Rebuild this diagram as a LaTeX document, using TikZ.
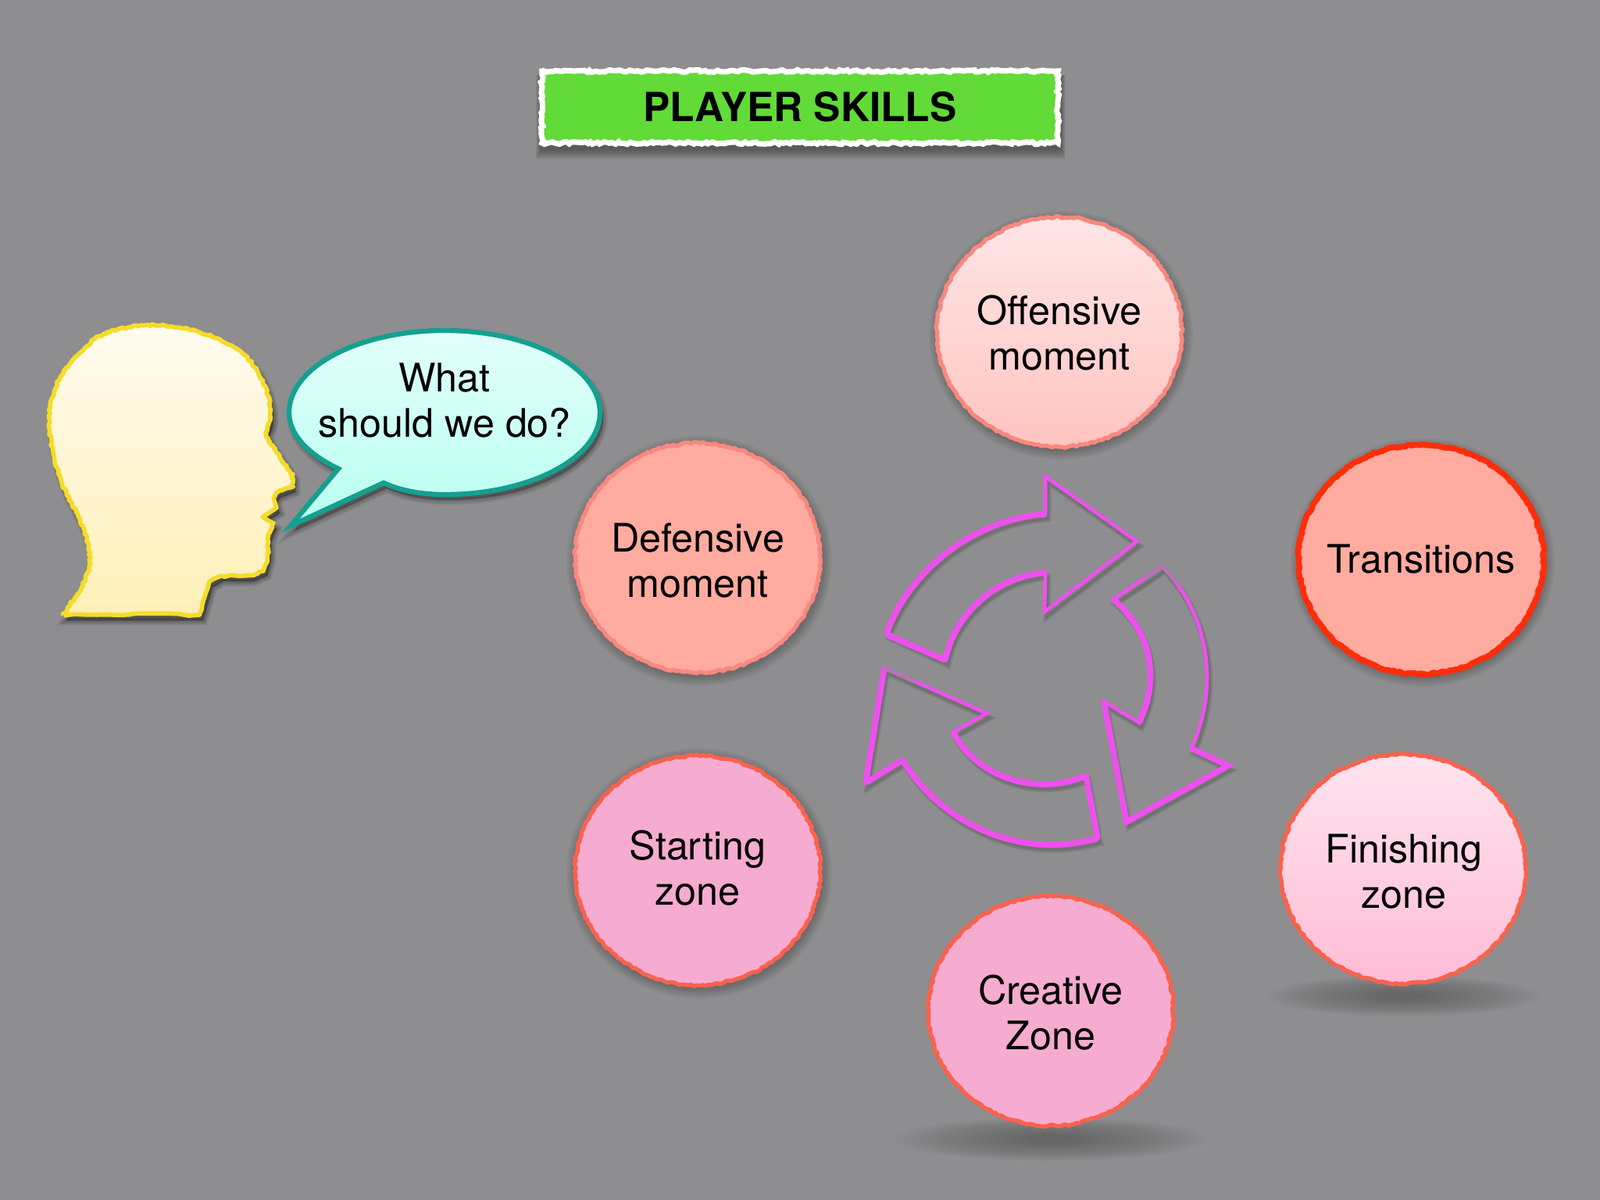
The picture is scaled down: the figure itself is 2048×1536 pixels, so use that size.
\documentclass[tikz,border=0pt]{standalone}
\usepackage{fontspec}
\setmainfont{TeX Gyre Heros}
\usetikzlibrary{shapes.geometric,decorations.pathmorphing}
\definecolor{bgray}{HTML}{8E8D8F}
\definecolor{pinkfill}{HTML}{F6ABD0}
\definecolor{salmon}{HTML}{FFABA0}
\definecolor{edgesoft}{HTML}{F9887F}
\definecolor{edgecoral}{HTML}{F9624E}
\definecolor{edgered}{HTML}{FF2D0A}
\definecolor{magentaline}{HTML}{F04FF0}
\definecolor{titlegreen}{HTML}{62DA37}
\definecolor{headline}{HTML}{F5DC2A}
\definecolor{tealline}{HTML}{14A090}
\definecolor{headtop}{HTML}{FFFBEE}
\definecolor{headbot}{HTML}{FFF0B8}
\definecolor{bubtop}{HTML}{E2FFFB}
\definecolor{bubbot}{HTML}{B8FFF0}
\definecolor{offtop}{HTML}{FFE6E6}
\definecolor{offbot}{HTML}{FFC4C0}
\definecolor{fintop}{HTML}{FFE4EE}
\definecolor{finbot}{HTML}{FFBCD6}
\newcommand\headpath{(81,787) .. controls (100,760) and (118,735) .. (115,710) .. controls (112,680) and (95,650) .. (84,630) .. controls (72,600) and (62,565) .. (63,533) .. controls (64,495) and (85,465) .. (122,433) .. controls (145,420) and (170,416) .. (195,416) .. controls (240,416) and (280,430) .. (311,453) .. controls (335,475) and (348,510) .. (346,533) .. controls (345,545) and (342,548) .. (340,553) .. controls (345,570) and (360,585) .. (374,608) -- (374,623) -- (355,630) -- (350,638) -- (354,650) -- (336,662) -- (350,670) -- (343,687) -- (343,710) -- (338,730) -- (321,737) -- (282,737) -- (268,745) -- (256,787) -- cycle}
% jittered cubic and jittered straight piece, for the sketched outline
\newcommand\jb[8]{-- plot[domain=0:1,samples=28,variable=\t] ({(1-\t)*(1-\t)*(1-\t)*#1+3*(1-\t)*(1-\t)*\t*#3+3*(1-\t)*\t*\t*#5+\t*\t*\t*#7+rand*1.3},{(1-\t)*(1-\t)*(1-\t)*#2+3*(1-\t)*(1-\t)*\t*#4+3*(1-\t)*\t*\t*#6+\t*\t*\t*#8+rand*1.3})}
\newcommand\jl[4]{-- plot[domain=0:1,samples=7,variable=\t] ({#1+(#3-#1)*\t+rand*1.3},{#2+(#4-#2)*\t+rand*1.3})}
\newcommand\headrough{(81,787) \jb{81}{787}{100}{760}{118}{735}{115}{710} \jb{115}{710}{112}{680}{95}{650}{84}{630} \jb{84}{630}{72}{600}{62}{565}{63}{533} \jb{63}{533}{64}{495}{85}{465}{122}{433} \jb{122}{433}{145}{420}{170}{416}{195}{416} \jb{195}{416}{240}{416}{280}{430}{311}{453} \jb{311}{453}{335}{475}{348}{510}{346}{533} \jl{346}{533}{340}{553} \jb{340}{553}{345}{570}{360}{585}{374}{608} \jl{374}{608}{374}{623} \jl{374}{623}{355}{630} -- (350,638) -- (354,650) -- (336,662) -- (350,670) \jl{350}{670}{343}{687} \jl{343}{687}{343}{710} \jl{343}{710}{338}{730} \jl{338}{730}{321}{737} \jl{321}{737}{282}{737} \jl{282}{737}{268}{745} \jl{268}{745}{256}{787} \jl{256}{787}{168}{786} \jl{168}{786}{81}{787}}
\newcommand\bubblepath{(433,600) .. controls (392,580) and (370,555) .. (370,528) .. controls (370,470) and (459,423) .. (569,423) .. controls (679,423) and (768,470) .. (768,528) .. controls (768,586) and (679,633) .. (569,633) .. controls (540,633) and (512,628) .. (491,618) -- (372,673) -- cycle}
\newcommand\arcAin{(1210,845) .. controls (1222,785) and (1275,738) .. (1338,733)}
\newcommand\arcAout{(1338,658) .. controls (1245,665) and (1165,730) .. (1135,810)}
\newcommand\arcBin{(1425,767) .. controls (1475,810) and (1485,870) .. (1458,925)}
\newcommand\arcCin{(1220,937) .. controls (1250,995) and (1325,1020) .. (1390,993)}
\newcommand\arcCout{(1405,1073) .. controls (1310,1100) and (1210,1060) .. (1155,973)}
\newcommand\arrowA{(1210,845) .. controls (1222,785) and (1275,738) .. (1338,733) -- (1337,783) -- (1455,693) -- (1338,610) -- (1338,658) .. controls (1245,665) and (1165,730) .. (1135,810) -- cycle}
\newcommand\arrowB{(1572,980) -- (1525,958) .. controls (1560,880) and (1550,790) .. (1488,725) -- (1425,767) .. controls (1475,810) and (1485,870) .. (1458,925) -- (1413,898) -- (1442,1052) -- cycle}
\newcommand\arrowC{(1132,855) -- (1263,913) -- (1220,937) .. controls (1250,995) and (1325,1020) .. (1390,993) -- (1405,1073) .. controls (1310,1100) and (1210,1060) .. (1155,973) -- (1108,1002) -- cycle}
\newcommand\softdrop[4]{%
  \foreach \g in {0,2,...,12}{\fill[black,opacity=.035] (#1,#2) ellipse [x radius=#3+\g, y radius=#4+\g];}}
\newcommand\floorshadow[4]{%
  \foreach \g in {0,.0625,...,1}{\fill[black,opacity=.017] (#1,#2) ellipse [x radius=#3*(1-.85*\g), y radius=#4*(1-.8*\g)];}}
% skill ellipse body with its sketched rim: #1,#2 centre, #3 body style, #4 rim style
\newcommand\rim[4]{\path[#3] (#1,#2) ellipse [x radius=157, y radius=147];
  \draw[#4,line join=round] plot[domain=0:360,samples=260,variable=\q] ({#1+(157+rand*1.4)*cos(\q)},{#2+(147+rand*1.4)*sin(\q)}) -- cycle;}
\tikzset{
  x=.01cm,y=-.01cm,
  skillnode/.style={ellipse,inner sep=0pt,outer sep=0pt,align=center,font=\fontsize{14.3}{16.5}\selectfont},
  softrim/.style={draw=edgesoft,line width=1.5pt},
  coralrim/.style={draw=edgecoral,line width=1.5pt},
  redrim/.style={draw=edgered,line width=2.1pt},
  arrowthin/.style={draw=magentaline,line width=1.3pt,line join=miter},
  arrowthick/.style={draw=magentaline,line width=2.1pt,line cap=butt},
  arrowfade/.style={draw=bgray,opacity=.55,line width=1.7pt},
}
\begin{document}
\begin{tikzpicture}
\useasboundingbox (0,0) rectangle (2048,1536);
\fill[bgray] (0,0) rectangle (2048,1536);

% title
\foreach \g in {0,2,...,12}{\fill[black,opacity=.06] (692-\g/2,96) rectangle (1358+\g/2,192+\g);}
\node[rectangle,draw=white,fill=titlegreen,line width=2pt,minimum width=6.6cm,minimum height=.92cm,inner sep=0pt,
  decorate,decoration={random steps,segment length=1.1pt,amplitude=.45pt},
  font=\fontsize{14.6}{17}\selectfont\bfseries] (title) at (1024,137) {\raisebox{-.7pt}{PLAYER SKILLS}};

% head
\foreach \g in {1,3,...,13}{\path[draw=black,fill=black,opacity=.05,line width=\g*.2845pt,shift={(4,7)}] \headpath;}
\path[top color=headtop,bottom color=headbot] \headpath;
\draw[draw=headline,line width=1.6pt,line join=round] \headrough;

% bubble
\foreach \g in {1,3,...,13}{\path[draw=black,fill=black,opacity=.04,line width=\g*.2845pt,shift={(4,7)}] \bubblepath;}
\path[draw=tealline,line width=1.8pt,line join=miter,top color=bubtop,bottom color=bubbot] \bubblepath;
\node[align=center,inner sep=0pt,font=\fontsize{14.3}{16.5}\selectfont] (speech) at (569,513) {What\\should we do?};

% rotating arrows: shadows
\foreach \g in {3,6,9}{
  \path[draw=black,opacity=.07,line width=\g*.2845pt,shift={(3,6)}] \arrowA;
  \path[draw=black,opacity=.07,line width=\g*.2845pt,shift={(3,6)}] \arrowB;
  \path[draw=black,opacity=.07,line width=\g*.2845pt,shift={(3,6)}] \arrowC;}
% rotating arrows: strokes
\path[arrowthin] \arrowA;
\path[arrowthin] \arrowB;
\path[arrowthin] \arrowC;
\path[arrowthick] (1134,812) -- (1210,845);
\path[arrowthick] \arcAout;
\path[arrowthick] \arcAin;
\path[arrowthick] \arcBin;
\path[arrowthick] (1413,898) -- (1442,1052) -- (1572,980) -- (1525,958);
\path[arrowthick] (1108,1002) -- (1132,855);
\path[arrowthick] (1390,993) -- (1405,1073);
\path[arrowthick] \arcCout;
\path[arrowthick] (1155,973) -- (1108,1002);
\path[arrowthick] \arcCin;
% strokes that fade out near the ends
\path[arrowfade] (1488,725) -- (1465,741);
\path[arrowfade] (1488,725) -- (1508,747);
\path[arrowfade] (1132,855) -- (1172,873);

% skill ellipses
\softdrop{1358}{429}{157}{147}
\rim{1356}{425}{top color=offtop,bottom color=offbot}{softrim}
\node[skillnode] (offensive) at (1356,426) {Offensive\\moment};
\softdrop{895}{718}{158}{148}
\rim{893}{714}{fill=salmon}{softrim}
\node[skillnode] (defensive) at (893,717) {Defensive\\moment};
\softdrop{1821}{720}{157}{147}
\rim{1819}{716}{fill=salmon}{redrim}
\node[skillnode] (transitions) at (1819,716) {Transitions};
\softdrop{895}{1118}{158}{148}
\rim{893}{1114}{fill=pinkfill}{coralrim}
\node[skillnode] (starting) at (893,1111) {Starting\\zone};
\floorshadow{1796}{1275}{175}{26}
\rim{1796}{1112}{top color=fintop,bottom color=finbot}{coralrim}
\node[skillnode] (finishing) at (1797,1116) {Finishing\\zone};
\floorshadow{1345}{1458}{200}{28}
\rim{1345}{1294}{fill=pinkfill}{coralrim}
\node[skillnode] (creative) at (1345,1296) {Creative\\Zone};
\end{tikzpicture}
\end{document}
